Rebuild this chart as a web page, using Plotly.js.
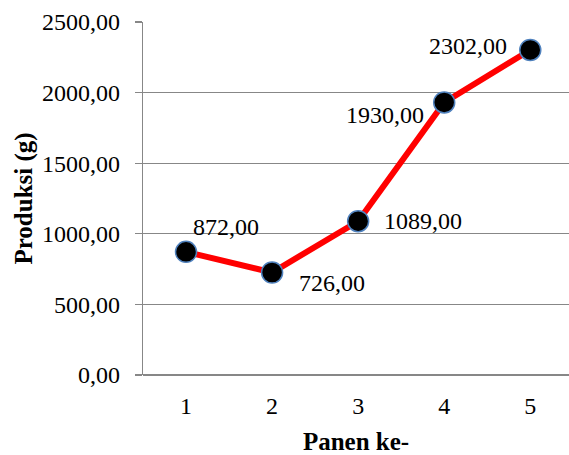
<!DOCTYPE html>
<html>
<head>
<meta charset="utf-8">
<script src="https://cdn.plot.ly/plotly-3.0.1.min.js"></script>
<style>html,body{margin:0;padding:0;background:#fff;}#chart{width:569px;height:455px;}</style>
</head>
<body>
<div id="chart"></div>
<script>
var panen = ['1', '2', '3', '4', '5'];
var produksi = [872, 726, 1089, 1930, 2302];
var labelDx = [40, 60, 65, -59, -62];
var labelDy = [-25, 11, 0, 13, -4];

var FONT = '"Liberation Serif", "DejaVu Serif", serif';

function fmt(v) { return v.toFixed(2).replace('.', ','); }

var trace = {
  x: panen,
  y: produksi,
  type: 'scatter',
  mode: 'lines+markers',
  line: { color: '#ff0000', width: 6 },
  marker: { size: 21, color: '#000000', line: { color: '#4f81bd', width: 1.5 } },
  hoverinfo: 'none',
  cliponaxis: false
};

var annotations = panen.map(function (c, i) {
  return {
    x: i, y: produksi[i], xref: 'x', yref: 'y',
    text: fmt(produksi[i]), showarrow: true, arrowcolor: 'rgba(0,0,0,0)',
    ax: labelDx[i], ay: labelDy[i],
    font: { family: FONT, size: 24, color: '#000' }
  };
});

var layout = {
  width: 569, height: 455,
  margin: { l: 143, r: 0, t: 22, b: 80 },
  paper_bgcolor: '#fff', plot_bgcolor: '#fff',
  separators: ',.',
  showlegend: false,
  font: { family: FONT, size: 24, color: '#000' },
  xaxis: {
    type: 'category',
    range: [-0.5, 4.45],
    showgrid: false, zeroline: false,
    showline: false,
    ticks: '',
    ticklabelstandoff: 14,
    tickfont: { family: FONT, size: 24, color: '#000' },
    title: { text: '<b>Panen ke-</b>', font: { family: FONT, size: 25, color: '#000' }, standoff: 14 },
    automargin: false
  },
  yaxis: {
    range: [0, 2500],
    tickvals: [0, 500, 1000, 1500, 2000, 2500],
    tickformat: '.2f',
    showgrid: true, gridcolor: '#878787', gridwidth: 1.3,
    zeroline: true, zerolinecolor: '#878787', zerolinewidth: 1.3,
    showline: true, linecolor: '#878787', linewidth: 1.3,
    ticks: 'outside', ticklen: 7, tickcolor: '#878787', tickwidth: 1.3,
    ticklabelstandoff: 10,
    tickfont: { family: FONT, size: 24, color: '#000' },
    title: { text: '<b>Produksi (g)</b>', font: { family: FONT, size: 25, color: '#000' }, standoff: 2 },
    automargin: false
  },
  annotations: annotations
};

Plotly.newPlot('chart', [trace], layout, { displayModeBar: false, staticPlot: true });
</script>
</body>
</html>
